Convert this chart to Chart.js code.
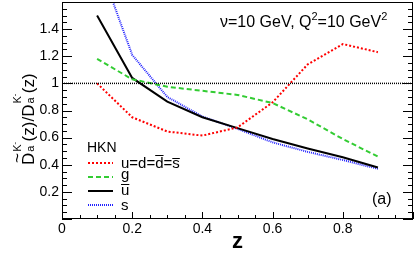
<!DOCTYPE html>
<html>
<head>
<meta charset="utf-8">
<script src="https://cdn.jsdelivr.net/npm/chart.js@4"></script>
<style>
  html, body { margin: 0; padding: 0; background: #fff; }
  #wrap { width: 415px; height: 259px; position: relative; }
</style>
</head>
<body>
<div id="wrap"><canvas id="chart" width="415" height="259"></canvas></div>
<script>
// values
const zValues = [0.1, 0.2, 0.3, 0.4, 0.5, 0.6, 0.7, 0.8, 0.9];
const lightQuarks = [1.0, 0.75, 0.645, 0.615, 0.675, 0.86, 1.14, 1.29, 1.23];
const gluon = [1.18, 1.03, 0.975, 0.945, 0.915, 0.855, 0.735, 0.59, 0.46];
const uBar = [1.5, 1.04, 0.865, 0.75, 0.67, 0.59, 0.52, 0.455, 0.38];
const strange = [1.92, 1.21, 0.9, 0.755, 0.665, 0.565, 0.495, 0.435, 0.37];
const refLine = [1, 1];
const xTicks = [0, 0.2, 0.4, 0.6, 0.8];
const yTicks = [0.2, 0.4, 0.6, 0.8, 1, 1.2, 1.4];

const FONT = '"Liberation Sans", Arial, sans-serif';

function pts(ys) { return ys.map((y, i) => ({ x: zValues[i], y: y })); }

// frame, inward ticks, labels, legend and texts
const decor = {
  id: 'decor',
  afterDraw(chart) {
    const ctx = chart.ctx;
    const a = chart.chartArea;
    const xs = chart.scales.x, ys = chart.scales.y;
    ctx.save();
    ctx.strokeStyle = '#000';
    ctx.lineWidth = 1;
    ctx.strokeRect(a.left + 0.5, a.top + 0.5, a.right - a.left - 1, a.bottom - a.top - 1);

    ctx.beginPath();
    for (let i = 0; i <= 20; i++) {
      const v = i * 0.05;
      const px = Math.round(xs.getPixelForValue(v)) + 0.5;
      const len = (i % 4 === 0) ? 7 : 4;
      ctx.moveTo(px, a.bottom); ctx.lineTo(px, a.bottom - len);
    }
    for (let i = 0; i <= 32; i++) {
      const v = i * 0.05;
      const py = Math.round(ys.getPixelForValue(v)) + 0.5;
      const len = (i % 4 === 0) ? 10 : 5;
      ctx.moveTo(a.left, py); ctx.lineTo(a.left + len, py);
      ctx.moveTo(a.right, py); ctx.lineTo(a.right - len, py);
    }
    ctx.stroke();

    ctx.fillStyle = '#000';
    ctx.font = '14px ' + FONT;
    ctx.textAlign = 'center';
    ctx.textBaseline = 'top';
    xTicks.forEach(v => ctx.fillText(String(v), xs.getPixelForValue(v), a.bottom + 3));
    ctx.textAlign = 'right';
    ctx.textBaseline = 'middle';
    yTicks.forEach(v => ctx.fillText(String(v), a.left - 3, ys.getPixelForValue(v)));

    // x title
    ctx.font = 'bold 22px ' + FONT;
    ctx.textAlign = 'center';
    ctx.textBaseline = 'alphabetic';
    ctx.fillText('z', (a.left + a.right) / 2, 248);

    // annotation
    ctx.textAlign = 'left';
    ctx.font = '16px ' + FONT;
    let x = 220;
    const by = 27;
    const parts = [['\u03bd=10 GeV, Q', 0], ['2', 1], ['=10 GeV', 0], ['2', 1]];
    parts.forEach(p => {
      ctx.font = (p[1] ? '11px ' : '16px ') + FONT;
      ctx.fillText(p[0], x, p[1] ? by - 7 : by);
      x += ctx.measureText(p[0]).width;
    });
    ctx.font = '16px ' + FONT;
    ctx.fillText('(a)', 372, 204);

    // legend
    ctx.font = '14px ' + FONT;
    ctx.fillText('HKN', 87, 152);
    const leg = [
      { c: '#ff0000', d: [2, 2], w: 2, y: 163 },
      { c: '#33cc33', d: [5, 3], w: 2, y: 177 },
      { c: '#000000', d: [], w: 2, y: 191 },
      { c: '#2222ff', d: [1, 1], w: 2, y: 205 }
    ];
    leg.forEach(l => {
      ctx.strokeStyle = l.c; ctx.lineWidth = l.w; ctx.setLineDash(l.d);
      ctx.beginPath(); ctx.moveTo(88, l.y); ctx.lineTo(113, l.y); ctx.stroke();
    });
    ctx.setLineDash([]);
    ctx.fillStyle = '#000';
    ctx.font = '15px ' + FONT;
    ctx.fillText('u=d=d=s', 121, 168);
    // bars over d and s
    const w1 = ctx.measureText('u=d=').width;
    const wd = ctx.measureText('d').width;
    const w2 = ctx.measureText('u=d=d=').width;
    const ws = ctx.measureText('s').width;
    ctx.lineWidth = 1;
    ctx.strokeStyle = '#000';
    ctx.beginPath();
    ctx.moveTo(121 + w1, 155.5); ctx.lineTo(121 + w1 + wd, 155.5);
    ctx.moveTo(121 + w2, 158.5); ctx.lineTo(121 + w2 + ws, 158.5);
    ctx.stroke();
    ctx.fillText('g', 121, 179);
    ctx.fillText('u', 121, 195);
    const wu = ctx.measureText('u').width;
    ctx.beginPath(); ctx.moveTo(121, 184.5); ctx.lineTo(121 + wu, 184.5); ctx.stroke();
    ctx.fillText('s', 121, 210);

    // y title, rotated
    ctx.translate(34, 165);
    ctx.rotate(-Math.PI / 2);
    let tx = 0;
    const big = '17px ' + FONT, small = '11px ' + FONT, tiny = '8px ' + FONT;
    function stack() {
      ctx.font = small;
      ctx.fillText('a', tx + 1, 0);
      const wk = ctx.measureText('K').width;
      ctx.fillText('K', tx + 1, -13);
      ctx.font = tiny;
      ctx.fillText('-', tx + 1 + wk, -17);
      tx += wk + 4;
    }
    ctx.font = big;
    ctx.fillText('D', tx, 0);
    const wD = ctx.measureText('D').width;
    ctx.fillText('~', tx + 2, -11);
    tx += wD;
    stack();
    ctx.font = big;
    ctx.fillText('(z)/D', tx, 0);
    tx += ctx.measureText('(z)/D').width;
    stack();
    ctx.font = big;
    ctx.fillText('(z)', tx, 0);
    ctx.restore();
  }
};

new Chart(document.getElementById('chart'), {
  type: 'line',
  data: {
    datasets: [
      { data: [{ x: 0, y: refLine[0] }, { x: 1, y: refLine[1] }], borderColor: '#000', borderWidth: 1.5, borderDash: [1, 1] },
      { data: pts(lightQuarks), borderColor: '#ff0000', borderWidth: 2, borderDash: [2, 2] },
      { data: pts(gluon), borderColor: '#33cc33', borderWidth: 2, borderDash: [5, 3] },
      { data: pts(uBar), borderColor: '#000000', borderWidth: 2 },
      { data: pts(strange), borderColor: '#2222ff', borderWidth: 2, borderDash: [1, 1] }
    ]
  },
  options: {
    responsive: false,
    animation: false,
    events: [],
    layout: { padding: { left: 62, top: 2, right: 2, bottom: 40 } },
    elements: { point: { radius: 0 }, line: { tension: 0, fill: false } },
    plugins: { legend: { display: false }, tooltip: { enabled: false } },
    scales: {
      x: { type: 'linear', min: 0, max: 1, display: false },
      y: { type: 'linear', min: 0, max: 1.6, display: false }
    }
  },
  plugins: [decor]
});
</script>
</body>
</html>
